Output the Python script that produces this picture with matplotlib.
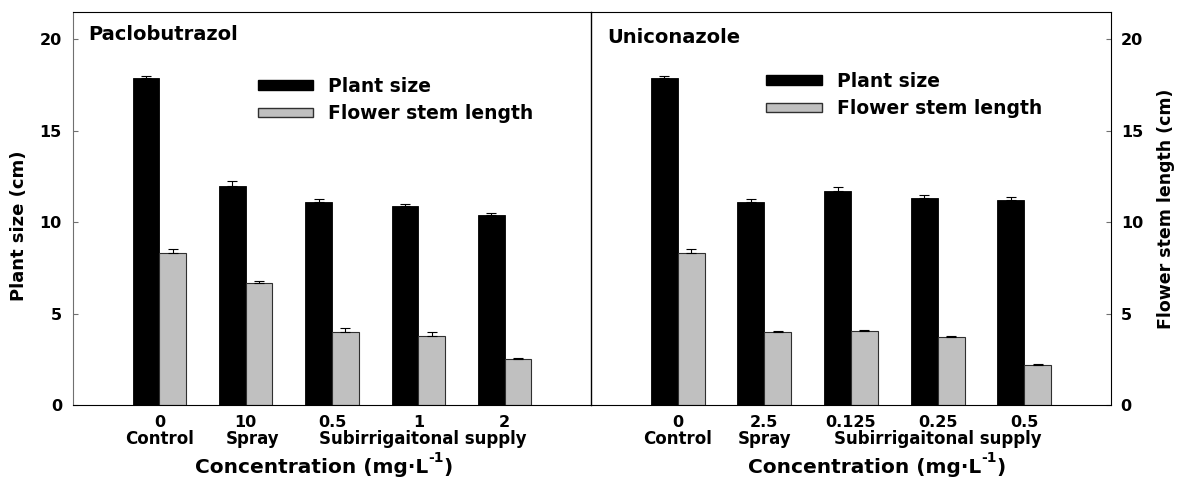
import matplotlib

matplotlib.use("Agg")
import matplotlib.pyplot as plt
import numpy as np
from matplotlib.patches import Patch
from matplotlib.transforms import blended_transform_factory

plt.rcParams["font.family"] = ["DejaVu Sans"]
plt.rcParams["font.weight"] = "bold"

# data
pac_doses = ["0", "10", "0.5", "1", "2"]
pac_plant = [17.9, 12.0, 11.1, 10.9, 10.4]
pac_plant_err = [0.1, 0.25, 0.15, 0.12, 0.1]
pac_flower = [8.3, 6.7, 4.0, 3.8, 2.5]
pac_flower_err = [0.25, 0.08, 0.2, 0.18, 0.08]

uni_doses = ["0", "2.5", "0.125", "0.25", "0.5"]
uni_plant = [17.9, 11.1, 11.7, 11.3, 11.2]
uni_plant_err = [0.1, 0.15, 0.22, 0.2, 0.18]
uni_flower = [8.3, 4.0, 4.05, 3.7, 2.2]
uni_flower_err = [0.25, 0.05, 0.03, 0.07, 0.03]

categories = ["Control", "Spray", "Subirrigaitonal supply"]

W, H = 1179, 483
fig = plt.figure(figsize=(W / 100, H / 100), dpi=100)
ax1 = fig.add_axes([73 / W, 78 / H, 518 / W, 393 / H])
ax2 = fig.add_axes([591 / W, 78 / H, 520 / W, 393 / H])
ax2.patch.set_visible(False)

x = np.arange(1, 6)
bw = 0.31
gray = "#c0c0c0"


def draw_panel(ax, title, title_xy, doses, plant, plant_err, flower, flower_err,
               cat_x, leg_xy, xlab_x):
    ax.bar(x - bw / 2, plant, bw, color="black", edgecolor="black", linewidth=0.6)
    ax.bar(x + bw / 2, flower, bw, color=gray, edgecolor="#303030", linewidth=0.8)
    ax.errorbar(x - bw / 2, plant, yerr=[np.zeros(5), plant_err], fmt="none",
                ecolor="black", elinewidth=0.8, capsize=3.5, capthick=0.8)
    ax.errorbar(x + bw / 2, flower, yerr=[np.zeros(5), flower_err], fmt="none",
                ecolor="black", elinewidth=0.8, capsize=3.5, capthick=0.8)
    ax.set_xlim(0, 6)
    ax.set_ylim(0, 21.5)
    ax.set_xticks([])
    ax.set_yticks([0, 5, 10, 15, 20])
    ax.text(title_xy[0], title_xy[1], title, transform=ax.transAxes,
            fontsize=14, fontweight="bold", va="center", ha="left")

    tr = blended_transform_factory(ax.transData, ax.transAxes)
    for xi, d in zip(x, doses):
        ax.text(xi, -0.055, d, transform=tr, ha="center", va="baseline",
                fontsize=11.5, fontweight="bold")
    for cx, label in zip(cat_x, categories):
        ax.text(cx, -0.1, label, transform=tr, ha="center", va="baseline",
                fontsize=12, fontweight="bold")

    # axis title with a plain hyphen in the superscript
    t = ax.text(xlab_x, -0.173, "Concentration (mg\u00b7L", transform=ax.transAxes,
                ha="right", va="baseline", fontsize=14.5, fontweight="bold")
    sup = ax.annotate("-1", xy=(1, 0.62), xycoords=t, ha="left", va="bottom",
                      fontsize=10, fontweight="bold")
    ax.annotate(")", xy=(1, 0), xycoords=(sup, t), ha="left", va="bottom",
                fontsize=14.5, fontweight="bold")

    handles = [Patch(facecolor="black", edgecolor="black", label="Plant size"),
               Patch(facecolor=gray, edgecolor="#303030", label="Flower stem length")]
    ax.legend(handles=handles, loc="upper left", bbox_to_anchor=leg_xy,
              frameon=False, fontsize=13.5, handlelength=2.95, handleheight=0.42,
              labelspacing=0.45, handletextpad=0.8, borderaxespad=0, borderpad=0)


draw_panel(ax1, "Paclobutrazol", (0.029, 0.943), pac_doses, pac_plant, pac_plant_err,
           pac_flower, pac_flower_err, [1.0, 2.08, 4.05], (0.357, 0.835), 0.685)
draw_panel(ax2, "Uniconazole", (0.031, 0.936), uni_doses, uni_plant, uni_plant_err,
           uni_flower, uni_flower_err, [1.0, 2.0, 4.0], (0.337, 0.848), 0.75)

ax1.tick_params(axis="y", direction="in", length=3.6, color="#707070", pad=8,
                labelsize=11.5)
ax1.set_ylabel("Plant size (cm)", fontsize=13, fontweight="bold")
ax1.yaxis.set_label_coords(-0.087, 0.455)
ax1.spines["left"].set_color("#707070")
ax1.spines["right"].set_linewidth(1.0)

ax2.yaxis.tick_right()
ax2.yaxis.set_label_position("right")
ax2.tick_params(axis="y", direction="in", length=3.6, color="#707070", pad=7,
                labelsize=11.5, left=False, right=True, labelleft=False, labelright=True)
ax2.set_ylabel("Flower stem length (cm)", fontsize=12.5, fontweight="bold",
               labelpad=10, rotation=90)
ax2.spines["left"].set_visible(False)

fig.savefig("out.png", dpi=100)
